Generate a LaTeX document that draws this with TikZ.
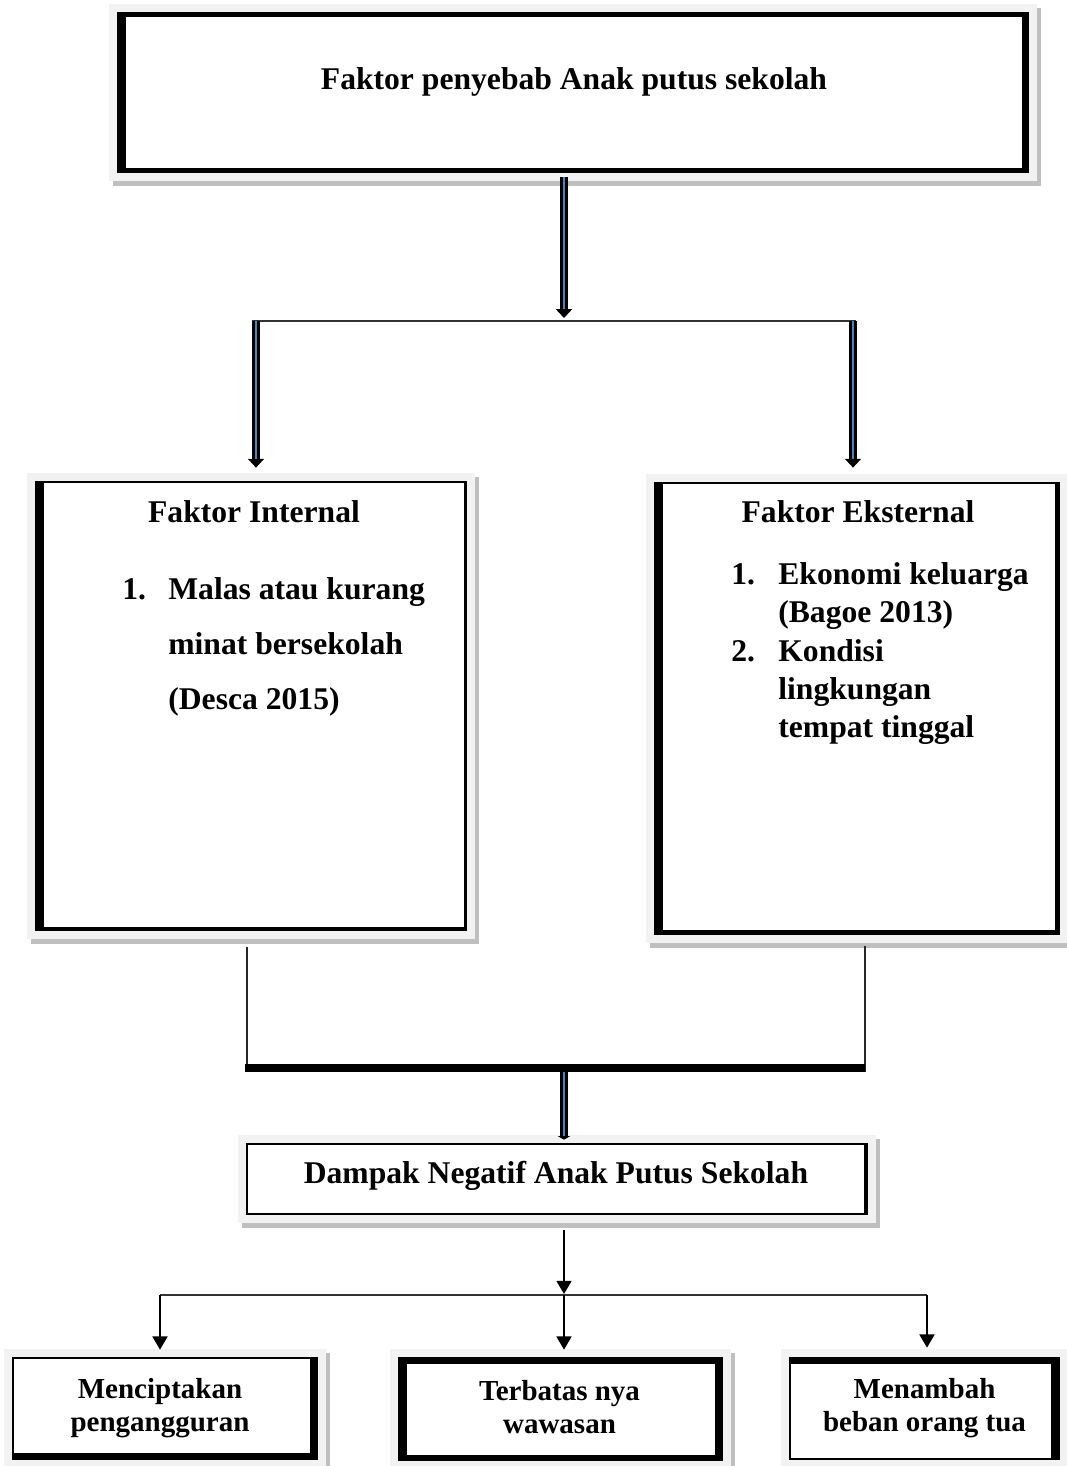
\documentclass[tikz,border=0pt]{standalone}
\usepackage{fontspec}
\setmainfont{Liberation Serif}
\usetikzlibrary{arrows.meta,fit,calc}

\definecolor{abumuda}{HTML}{F2F2F2}
\definecolor{abutua}{HTML}{BFBFBF}
\definecolor{birugaris}{HTML}{4F81BD}

% bingkai{nama}{x1}{y1}{x2}{y2}{kiri}{atas}{kanan}{bawah}
\newcommand{\bingkai}[9]{%
  \fill[abutua] (#2-4,#3-4) rectangle (#4+12,#5+13);
  \fill[abumuda] (#2-8,#3-8) rectangle (#4+8,#5+8);
  \fill[black] (#2,#3) rectangle (#4,#5);
  \fill[white] (#2+#6,#3+#7) rectangle (#4-#8,#5-#9);
  \coordinate (#1-a) at (#2,#3);
  \coordinate (#1-b) at (#4,#5);
  \node[fit=(#1-a)(#1-b), inner sep=0pt] (#1) {};
}

\tikzset{
  teksbesar/.style={inner sep=0pt, font=\fontsize{18}{22}\selectfont\bfseries},
  teksbawah/.style={inner sep=0pt, align=center, font=\fontsize{16.5}{18.7}\selectfont\bfseries},
  panahganda/.style={draw=black, line width=4.5pt, -{Triangle[width=9pt,length=5pt]},
    postaction={draw=birugaris, line width=1.4pt, -, shorten >=5pt}},
  panahgandakecil/.style={draw=black, line width=4.5pt, -{Triangle[width=7pt,length=2pt]},
    postaction={draw=birugaris, line width=1.4pt, -, shorten >=2pt}},
  panahtipis/.style={draw=black, line width=1.1pt, -{Triangle[width=8.5pt,length=7.5pt]}},
  garis/.style={draw=black!80, line width=1.1pt},
  garistipis/.style={draw=black!85, line width=0.7pt},
  batang/.style={draw=black, line width=4.5pt}
}

\begin{document}
\begin{tikzpicture}[x=0.02cm,y=-0.02cm]
  \useasboundingbox (0,0) rectangle (1066,1466);

  % kotak-kotak
  \bingkai{penyebab}{117}{12}{1029}{173}{9}{5}{7}{5}
  \bingkai{internal}{35}{481}{467}{931}{9}{2}{3}{4}
  \bingkai{eksternal}{654}{482}{1060}{935}{9}{2}{5}{5}
  \bingkai{dampak}{246}{1143}{868}{1215}{2}{2}{4}{2}
  \bingkai{d1}{12}{1357}{318}{1460}{2}{2}{8}{7}
  \bingkai{d2}{398}{1357}{723}{1461}{9}{7}{8}{6}
  \bingkai{d3}{789}{1357}{1060}{1460}{2}{7}{9}{2}

  % teks
  \node[teksbesar, anchor=base] (tjudul) at (574,90) {Faktor penyebab Anak putus sekolah};

  \node[teksbesar, anchor=base] (tint) at (254,522) {Faktor Internal};
  \node[teksbesar, anchor=base west] (nint1) at (122,599) {1.};
  \node[teksbesar, anchor=base west] (int1) at (168,599) {Malas atau kurang};
  \node[teksbesar, anchor=base west] (int2) at (168,654) {minat bersekolah};
  \node[teksbesar, anchor=base west] (int3) at (168,709) {(Desca 2015)};

  \node[teksbesar, anchor=base] (teks) at (858,522) {Faktor Eksternal};
  \node[teksbesar, anchor=base west] (neks1) at (731,584) {1.};
  \node[teksbesar, anchor=base west] (eks1) at (778,584) {Ekonomi keluarga};
  \node[teksbesar, anchor=base west] (eks2) at (778,622) {(Bagoe 2013)};
  \node[teksbesar, anchor=base west] (neks2) at (731,661) {2.};
  \node[teksbesar, anchor=base west] (eks3) at (778,661) {Kondisi};
  \node[teksbesar, anchor=base west] (eks4) at (778,699) {lingkungan};
  \node[teksbesar, anchor=base west] (eks5) at (778,737) {tempat tinggal};

  \node[teksbesar, anchor=base] (tdampak) at (556,1183) {Dampak Negatif Anak Putus Sekolah};

  \node[teksbawah] (td1) at ($(d1)+(-5,0)$) {Menciptakan\\pengangguran};
  \node[teksbawah] (td2) at ($(d2)+(-1,-2)$) {Terbatas nya\\wawasan};
  \node[teksbawah] (td3) at (d3) {Menambah\\beban orang tua};

  % titik cabang
  \coordinate (cab) at (564,321);
  \coordinate (cabkiri) at (256,321);
  \coordinate (cabkanan) at (853,321);
  \coordinate (kirib) at (247,1068);
  \coordinate (kananb) at (865,1068);
  \coordinate (tengahb) at (564,1068);
  \coordinate (cab2) at (564,1295);
  \coordinate (cab2kiri) at (160,1295);
  \coordinate (cab2kanan) at (927,1295);

  % penghubung
  \draw[garis] ($(cabkiri)+(-4,0)$) -- ($(cabkanan)+(3,0)$);
  \draw[panahganda] ($(cab |- penyebab.south)+(0,4)$) -- ($(cab)+(0,-3)$);
  \draw[panahganda] (cabkiri) -- ($(cabkiri |- internal.north)+(0,-13)$);
  \draw[panahganda] (cabkanan) -- ($(cabkanan |- eksternal.north)+(0,-14)$);

  \draw[garistipis] ($(kirib |- internal.south)+(0,16)$) -- (kirib);
  \draw[garistipis] ($(kananb |- eksternal.south)+(0,11)$) -- ($(kananb)+(0,4)$);
  \draw[batang] ($(kirib)+(-2,0)$) -- (kananb);
  \draw[panahgandakecil] ($(tengahb)+(0,4)$) -- ($(tengahb |- dampak.north)+(0,-3)$);

  \draw[panahtipis] ($(cab2 |- dampak.south)+(0,15)$) -- ($(cab2)+(0,-1)$);
  \draw[garis] (cab2kiri) -- (cab2kanan);
  \draw[panahtipis] (cab2kiri) -- ($(cab2kiri |- d1.north)+(0,-7)$);
  \draw[panahtipis] (cab2) -- ($(cab2 |- d2.north)+(0,-7)$);
  \draw[panahtipis] (cab2kanan) -- ($(cab2kanan |- d3.north)+(0,-9)$);
\end{tikzpicture}
\end{document}
